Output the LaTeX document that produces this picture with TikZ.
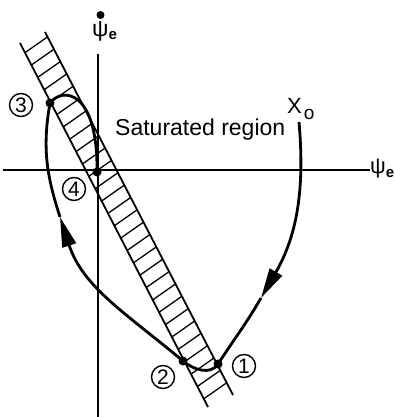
\documentclass[tikz,border=0pt]{standalone}
\usepackage{fontspec}
\setmainfont{Liberation Sans}
\usetikzlibrary{arrows.meta, calc}

\begin{document}
\begin{tikzpicture}[
        x=1pt, y=1pt,
        axis/.style={line width=1.6pt},
        edge/.style={line width=1.8pt},
        hatch/.style={line width=1.3pt},
        traj/.style={line width=2.8pt},
        flow/.style={-{Triangle[length=30pt,width=14pt]}},
        dot/.style={circle, fill=black, inner sep=0pt, minimum size=9pt},
        tag/.style={circle, draw=black, line width=1.4pt, inner sep=0pt, minimum size=23pt, font=\fontsize{21}{21}\selectfont}
    ]
    \useasboundingbox (0,0) rectangle (395,417);

    % axes
    \coordinate (ybot) at (98,0);
    \coordinate (ytop) at (98,363);
    \coordinate (xleft) at (3,247);
    \coordinate (xright) at (370,247);
    \draw [axis] (ybot) -- (ytop);
    \draw [axis] (xleft) -- (xright);
    \node (ydot) [dot, minimum size=8pt] at (100.5,402) {};
    \node (ylab) [anchor=base west, inner sep=0pt, font=\fontsize{23}{23}\selectfont] at (92,380) {ψ\raisebox{-3pt}{\fontsize{15}{15}\selectfont\bfseries e}};
    \node (xlab) [anchor=base west, inner sep=0pt, font=\fontsize{22}{22}\selectfont] at (370,243) {ψ\raisebox{-4pt}{\fontsize{15}{15}\selectfont\bfseries e}};

    % saturated band
    \coordinate (tl) at (20,374);
    \coordinate (tr) at (45,385);
    \coordinate (br) at (233,22);
    \coordinate (bl) at (208,10);
    \coordinate (tm) at ($(tl)!0.5!(tr)$);
    \coordinate (bm) at ($(bl)!0.5!(br)$);
    \begin{scope}
        \clip (tl) -- (tr) -- (br) -- (bl) -- cycle;
        \foreach \t in {0.02,0.054,...,1}
            \draw [hatch] ($(tm)!\t!(bm)$) ++(-22,-15.4) -- ++(44,30.8);
    \end{scope}
    \draw [edge] (tl) -- (bl);
    \draw [edge] (tr) -- (br);
    \node (satlab) [anchor=base west, inner sep=0pt, font=\fontsize{23}{23}\selectfont] at (115,281) {Saturated region};

    % trajectory
    \coordinate (x0) at (299,295);
    \coordinate (a1) at (261,119);
    \coordinate (a2) at (60,200);
    \node (p1) [dot] at (218,53) {};
    \node (p2) [dot] at (183,56) {};
    \node (p3) [dot] at (50,314) {};
    \node (p4) [dot] at (97,245) {};

    \draw [traj, flow] (x0) to[out=-85, in=60] (a1);
    \draw [traj] (a1) to[out=240, in=57] (p1.center) to[out=237, in=-40] (p2.center);
    \draw [traj, flow] (p2.center) to[out=140, in=-72] (a2);
    \draw [traj] (a2) to[out=108, in=260] (p3.center) .. controls (62,330) and (98,328) .. (p4.center);

    \node (x0lab) [anchor=base west, inner sep=0pt, font=\fontsize{22}{22}\selectfont] at (287,303) {X\hspace{2pt}\raisebox{-6pt}{\fontsize{19}{19}\selectfont o}};

    % point labels
    \node (l1) [tag] at (244,51) {1};
    \node (l2) [tag] at (163,40) {2};
    \node (l3) [tag] at (21,312) {3};
    \node (l4) [tag] at (74,228) {4};

\end{tikzpicture}
\end{document}
